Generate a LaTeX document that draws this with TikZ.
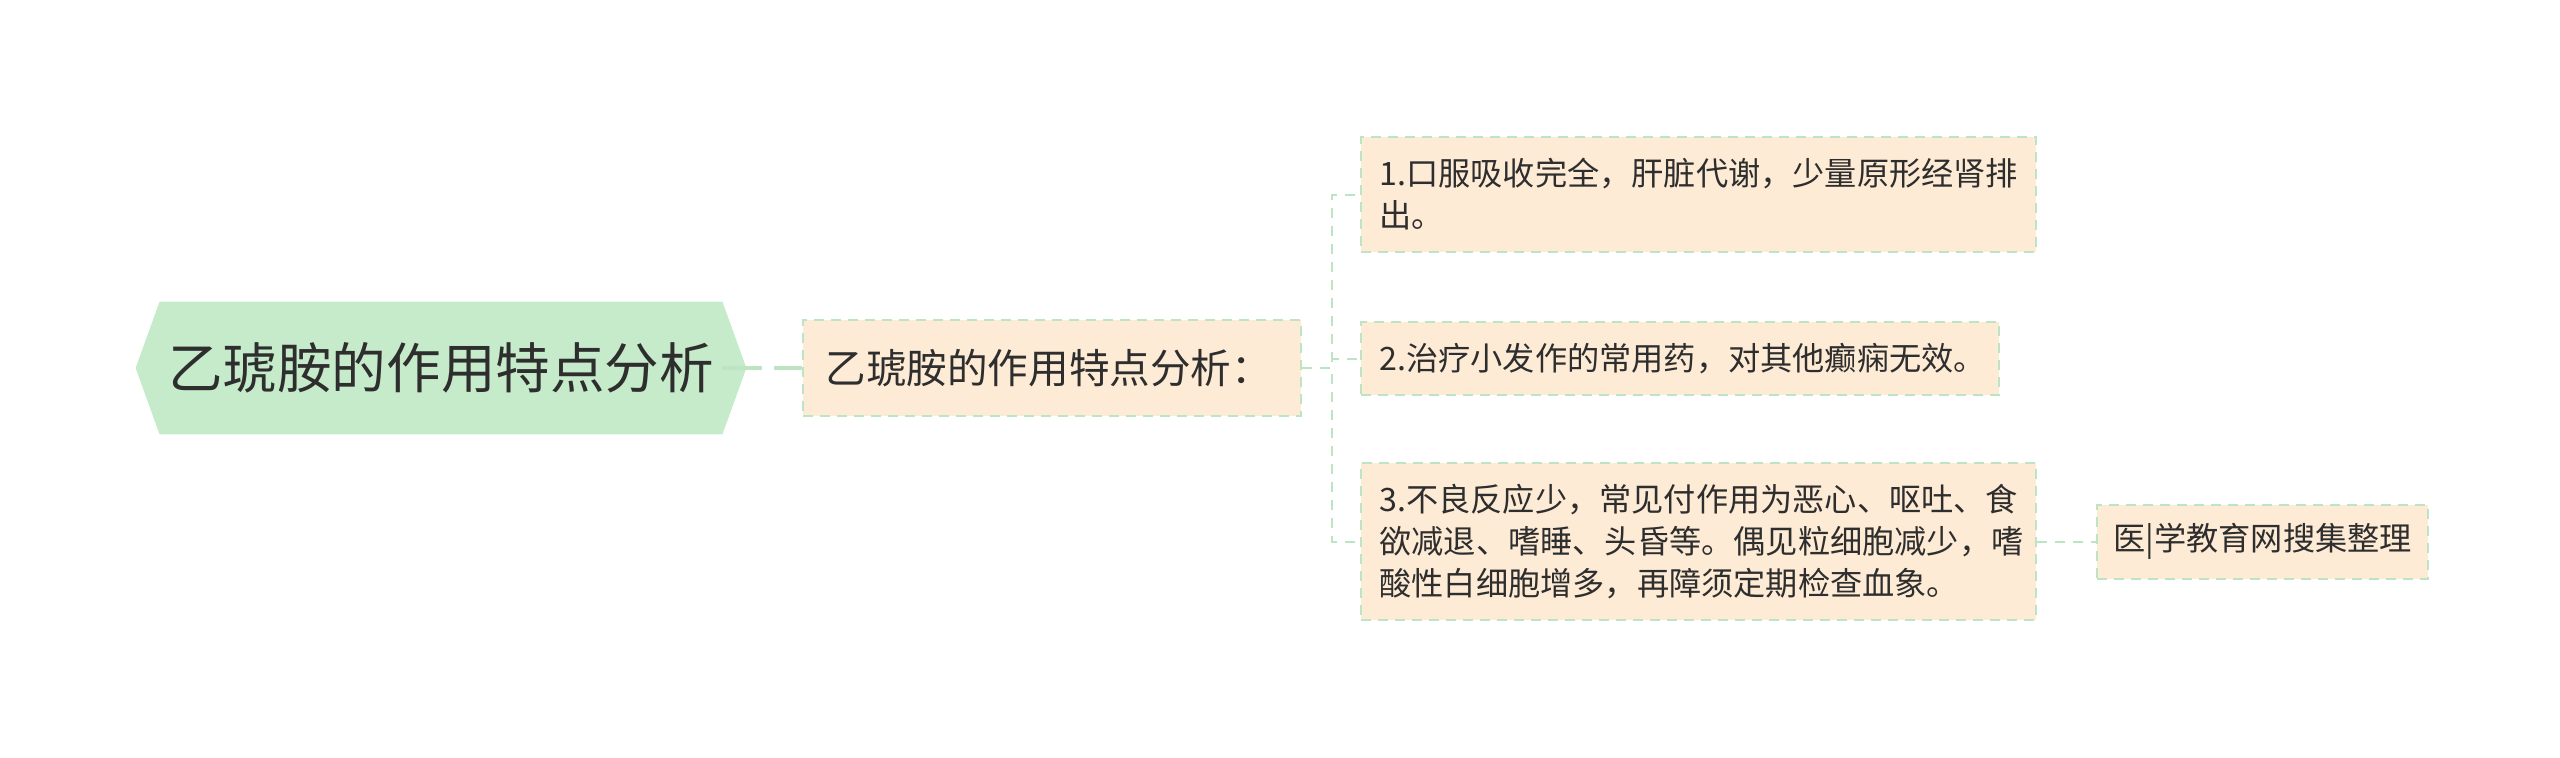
\documentclass[tikz,border=0pt]{standalone}
\usepackage{fontspec}
\setmainfont{Noto Sans CJK SC}
\usepackage{tikz}
\usetikzlibrary{positioning, backgrounds}
\definecolor{rootgreen}{HTML}{C6EBCA}
\definecolor{linegreen}{HTML}{BDE5C4}
\definecolor{peach}{HTML}{FDEBD5}
\definecolor{textgray}{HTML}{2E2E2E}
\tikzstyle{topic} = [rectangle, minimum width=281pt, minimum height=66pt, inner sep=0pt, text=textgray, font=\fontsize{27.3pt}{32pt}\selectfont]
\tikzstyle{branch} = [rectangle, draw=linegreen, line width=1pt, dash pattern=on 5pt off 3.5pt, fill=peach, inner ysep=0pt, text=textgray, align=left]
\tikzstyle{leaf} = [branch, inner xsep=9pt, font=\fontsize{16.1pt}{21pt}\selectfont]
\tikzstyle{link} = [draw=linegreen, line width=1pt, dash pattern=on 5pt off 4pt]
\tikzstyle{rootlink} = [draw=linegreen, line width=1.6pt, dash pattern=on 20pt off 6pt]

\begin{document}
\begin{tikzpicture}
\useasboundingbox (0,0) rectangle (1280pt,-378.5pt);
\node (Root) [topic] at (220.5pt,-184pt) {乙琥胺的作用特点分析};
\node (Mid) [branch, right=40pt of Root, text width=227pt, inner xsep=11pt, minimum height=48pt, font=\fontsize{20.3pt}{24pt}\selectfont] {乙琥胺的作用特点分析：};
\node (Item1) [leaf, right=29pt of Mid, yshift=86.75pt, text width=319.5pt, minimum height=57.5pt] {1.口服吸收完全，肝脏代谢，少量原形经肾排\\出。};
\node (Item2) [leaf, right=29pt of Mid, yshift=4.75pt, text width=301pt, minimum height=36.5pt] {2.治疗小发作的常用药，对其他癫痫无效。};
\node (Item3) [leaf, right=29pt of Mid, yshift=-86.75pt, text width=319.5pt, minimum height=78.5pt] {3.不良反应少，常见付作用为恶心、呕吐、食\\欲减退、嗜睡、头昏等。偶见粒细胞减少，嗜\\酸性白细胞增多，再障须定期检查血象。};
\node (Src) [leaf, right=29.5pt of Item3, text width=149.5pt, inner xsep=8pt, minimum height=37pt] {医|学教育网搜集整理};

\begin{scope}[on background layer]
\fill [rootgreen] ([xshift=-12pt]Root.west) -- (Root.north west) -- (Root.north east) -- ([xshift=12pt]Root.east) -- (Root.south east) -- (Root.south west) -- cycle;
\end{scope}

\draw [rootlink] (Root.east) -- (Mid.west);
\draw [link] (Mid.east) -- ++(15pt,0) |- (Item1.west);
\draw [link] (Mid.east) -- ++(15pt,0) |- (Item2.west);
\draw [link] (Mid.east) -- ++(15pt,0) |- (Item3.west);
\draw [link] (Item3) -- (Src);
\end{tikzpicture}
\end{document}
